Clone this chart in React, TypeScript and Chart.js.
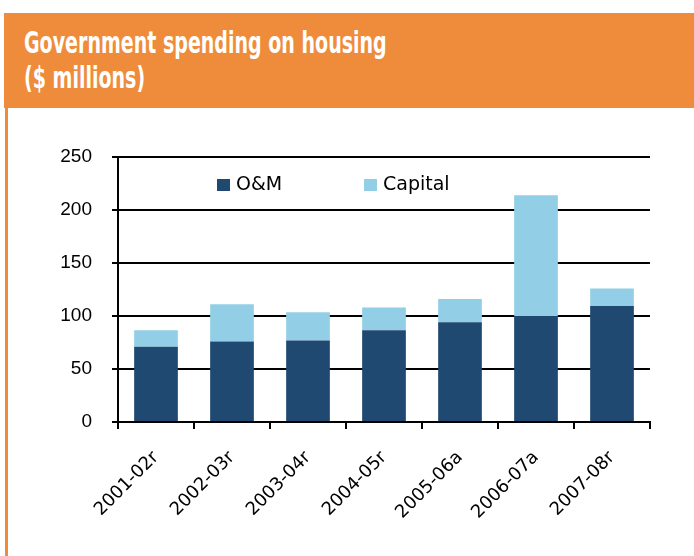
import React, { useEffect, useRef } from "react";
import { Chart, registerables } from "chart.js";

Chart.register(...registerables);

const titleLines = ["Government spending on housing", "($ millions)"];
const categories = ["2001-02r", "2002-03r", "2003-04r", "2004-05r", "2005-06a", "2006-07a", "2007-08r"];
const omValues = [71, 76, 77, 86.5, 94, 100, 109.5];
const capitalValues = [15.5, 35, 26.5, 21.5, 22, 114, 16.5];
const seriesLabels = ["O&M", "Capital"];
const seriesColors = ["#1F4970", "#92CFE6"];
const yMin = 0;
const yMax = 250;
const yStep = 50;

const ORANGE = "#EE8C3B";

const legendPlugin = {
  id: "innerLegend",
  afterDraw(chart: any) {
    const { ctx, chartArea } = chart;
    const offsets = [99, 246];
    ctx.save();
    ctx.font = '19px "DejaVu Sans", sans-serif';
    ctx.textBaseline = "middle";
    ctx.textAlign = "left";
    chart.data.datasets.forEach((ds: any, i: number) => {
      const x = chartArea.left + offsets[i];
      const y = chartArea.top + 22;
      ctx.fillStyle = ds.backgroundColor;
      ctx.fillRect(x, y, 13, 12);
      ctx.fillStyle = "#000";
      ctx.fillText(ds.label, x + 19, y + 6.5);
    });
    ctx.restore();
  },
};

export default function App() {
  const canvasRef = useRef<HTMLCanvasElement | null>(null);

  useEffect(() => {
    if (!canvasRef.current) return;
    const chart = new Chart(canvasRef.current, {
      type: "bar",
      data: {
        labels: categories,
        datasets: [
          {
            label: seriesLabels[0],
            data: omValues,
            backgroundColor: seriesColors[0],
            barPercentage: 0.575,
            categoryPercentage: 1,
          },
          {
            label: seriesLabels[1],
            data: capitalValues,
            backgroundColor: seriesColors[1],
            barPercentage: 0.575,
            categoryPercentage: 1,
          },
        ],
      },
      options: {
        responsive: false,
        animation: false,
        devicePixelRatio: 1,
        layout: { padding: { left: 0, right: 44, top: 157, bottom: 14 } },
        plugins: {
          legend: { display: false },
          tooltip: { enabled: false },
          title: { display: false },
        },
        scales: {
          x: {
            stacked: true,
            offset: true,
            grid: {
              display: true,
              offset: true,
              drawOnChartArea: false,
              drawTicks: true,
              tickLength: 7,
              color: "#000",
              lineWidth: 2,
            },
            border: { display: true, color: "#000", width: 2 },
            ticks: {
              color: "#000",
              font: { family: '"DejaVu Sans", sans-serif', size: 18 },
              maxRotation: 45,
              minRotation: 45,
              padding: 18,
              autoSkip: false,
            },
            afterFit: (scale: any) => {
              scale.height = 120;
            },
          },
          y: {
            stacked: true,
            min: yMin,
            max: yMax,
            grid: {
              color: "#000",
              lineWidth: 2,
              drawTicks: true,
              tickLength: 6,
            },
            border: { display: true, color: "#000", width: 2 },
            ticks: {
              stepSize: yStep,
              color: "#000",
              font: { family: '"Liberation Sans", Arial, sans-serif', size: 19 },
              padding: 20,
            },
            afterFit: (scale: any) => {
              scale.width = 118;
            },
          },
        },
      },
      plugins: [legendPlugin],
    });
    return () => chart.destroy();
  }, []);

  return (
    <div style={{ position: "absolute", left: 0, top: 0, width: 694, height: 556, background: "#fff", overflow: "hidden" }}>
      <canvas ref={canvasRef} width={694} height={556} style={{ position: "absolute", left: 0, top: 0, width: 694, height: 556 }} />
      <div
        style={{
          position: "absolute",
          left: 4,
          top: 13,
          width: 690,
          height: 95,
          background: ORANGE,
        }}
      >
        {titleLines.map((t, i) => (
          <div
            key={i}
            style={{
              position: "absolute",
              left: 20,
              top: 12 + i * 35,
              color: "#fff",
              fontFamily: '"DejaVu Sans Condensed", "DejaVu Sans", sans-serif',
              fontWeight: "bold",
              fontSize: 30,
              lineHeight: "35px",
              whiteSpace: "nowrap",
              transformOrigin: "left top",
              transform: "scaleX(0.705)",
            }}
          >
            {t}
          </div>
        ))}
      </div>
      <div style={{ position: "absolute", left: 5, top: 108, width: 3, height: 448, background: ORANGE }} />
    </div>
  );
}
